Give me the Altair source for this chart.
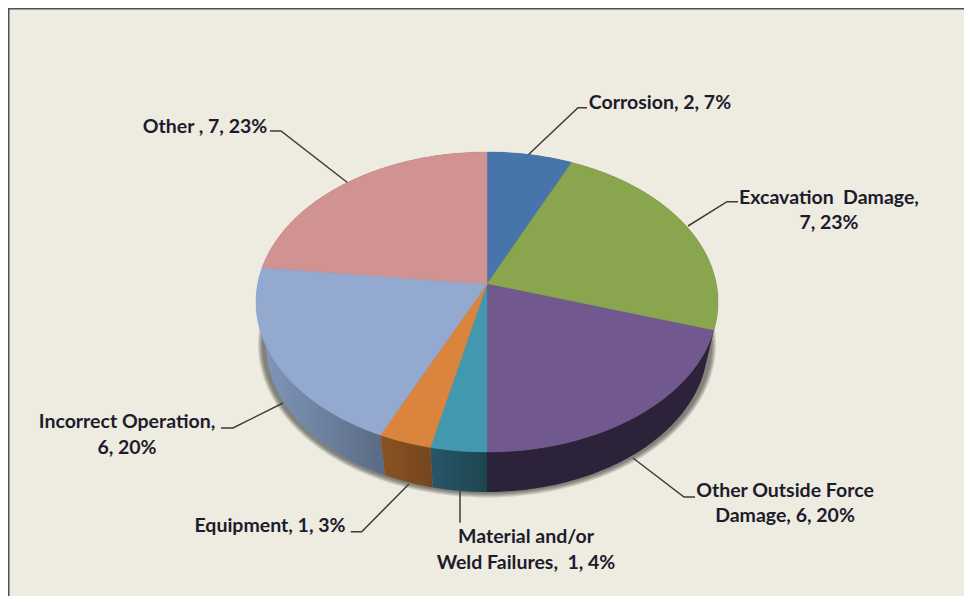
import math
import altair as alt
import pandas as pd

# ---- chart values ----
names = ["Corrosion", "Excavation Damage", "Other Outside Force Damage",
         "Material and/or Weld Failures", "Equipment", "Incorrect Operation", "Other"]
counts = [2, 7, 6, 1, 1, 6, 7]
shares = [6.7, 23.2, 20.1, 3.5, 3.3, 20.0, 23.2]
top_colors = ["#4674AB", "#89A54E", "#71588F", "#4198AF", "#DB843D", "#93A9CF", "#D19392"]
wall_left = ["#2A4566", "#52632F", "#2C2239", "#28566A", "#8A5222", "#8299BD", "#7D5857"]
wall_right = ["#2A4566", "#52632F", "#2C2239", "#1D454E", "#744620", "#5A6A83", "#7D5857"]

label_lines = ["Corrosion, 2, 7%", "Excavation\u00a0 Damage,", "7, 23%",
               "Other Outside Force", "Damage, 6, 20%",
               "Material and/or", "Weld Failures,\u00a0 1, 4%",
               "Equipment, 1, 3%", "Incorrect Operation,", "6, 20%", "Other , 7, 23%"]

# ---- layout (page pixels) ----
label_x = [660, 829, 829, 785, 785, 526, 526, 270, 127, 127, 205]
label_y = [103, 198, 223, 491, 516, 537, 563, 526, 422, 448, 127]
leaders = [
    [[587, 107.7], [578, 107.7], [528, 155]],
    [[738, 201.7], [727, 201.7], [688, 226]],
    [[633, 458], [684, 497], [695, 497]],
    [[460, 490], [460, 522.7]],
    [[409, 484], [361.7, 531.7], [350.7, 531.7]],
    [[283, 403], [233, 428], [221, 428]],
    [[270, 131], [281, 131], [348, 183]],
]
CX, K = 487, 0.12
TOP = dict(a=231, b=150, cy=302)
BOT = dict(a=221, b=148, cy=344)


def rim(frac, a, b, cy):
    """Point on the perspective-projected disc rim, clockwise from 12 o'clock."""
    t = 2 * math.pi * frac
    X, Y = math.sin(t), math.cos(t)
    A = a * math.sqrt(1 - K * K)
    B = b * (1 - K * K)
    hub_y = cy - K * b
    d = 1 + K * Y
    return [CX + A * X / d, hub_y - B * Y / d]


def hub(geo):
    return [CX, geo["cy"] - K * geo["b"]]


def arc(f0, f1, geo):
    n = max(2, int((f1 - f0) * 360))
    return [rim(f0 + (f1 - f0) * i / n, **geo) for i in range(n + 1)]


def feature(kind, coords, **props):
    return {"type": "Feature", "properties": props,
            "geometry": {"type": kind, "coordinates": coords}}


def shape_layer(features, **mark):
    return alt.Chart(alt.Data(values=features)).mark_geoshape(**mark).project(
        type="identity", scale=1, translate=[-8, -8])


total = sum(shares)
cum = [0]
for s in shares:
    cum.append(cum[-1] + s / total)

layers = []

# soft shadow beneath the disc
for i in (5, 4, 3, 2, 1):
    geo = dict(a=BOT["a"] + i + 3, b=BOT["b"] + i, cy=BOT["cy"] + 0.5)
    layers.append(shape_layer([feature("Polygon", [arc(0, 1, geo)])],
                              fill="#000000", fillOpacity=0.11, stroke=None))

# leader lines (under the disc)
leader_feats = [feature("LineString", l) for l in leaders]
layers.append(shape_layer(leader_feats, filled=False, stroke="#3C3C3C", strokeWidth=1.5))

# side walls
for i in range(len(shares)):
    f0, f1 = cum[i], cum[i + 1]
    upper = arc(f0, f1, TOP)
    lower = arc(f0, f1, BOT)
    poly = upper + lower[::-1] + [upper[0]]
    grad = alt.Gradient(gradient="linear", x1=0, y1=0, x2=1, y2=0,
                        stops=[alt.GradientStop(offset=0, color=wall_left[i]),
                               alt.GradientStop(offset=1, color=wall_right[i])])
    layers.append(shape_layer([feature("Polygon", [poly])], fill=grad, stroke=None))

# top slices
for i in range(len(shares)):
    poly = [hub(TOP)] + arc(cum[i], cum[i + 1], TOP) + [hub(TOP)]
    layers.append(shape_layer([feature("Polygon", [poly], name=names[i], count=counts[i])],
                              fill=top_colors[i], stroke=top_colors[i], strokeWidth=0.4))

# frame
frame = [feature("LineString", [[8.7, 604], [8.7, 8.7], [972, 8.7]])]
layers.append(shape_layer(frame, filled=False, stroke="#505050", strokeWidth=1.6))

# labels
df = pd.DataFrame({"text": label_lines,
                   "x": [v - 8 for v in label_x],
                   "y": [v - 8 for v in label_y]})
layers.append(alt.Chart(df).mark_text(font="Lato", fontWeight="bold", fontSize=19.5,
                                      color="#1C1C2C", align="center", baseline="middle").encode(
    x=alt.X("x:Q", scale=None, axis=None),
    y=alt.Y("y:Q", scale=None, axis=None),
    text="text:N"))

chart = alt.layer(*layers).properties(
    width=956, height=588, padding=0, background="#EEEBE0",
    autosize=alt.AutoSizeParams(type="none"),
).configure_view(strokeWidth=0)

chart.save("out.html", embed_options={"renderer": "svg", "actions": False})
